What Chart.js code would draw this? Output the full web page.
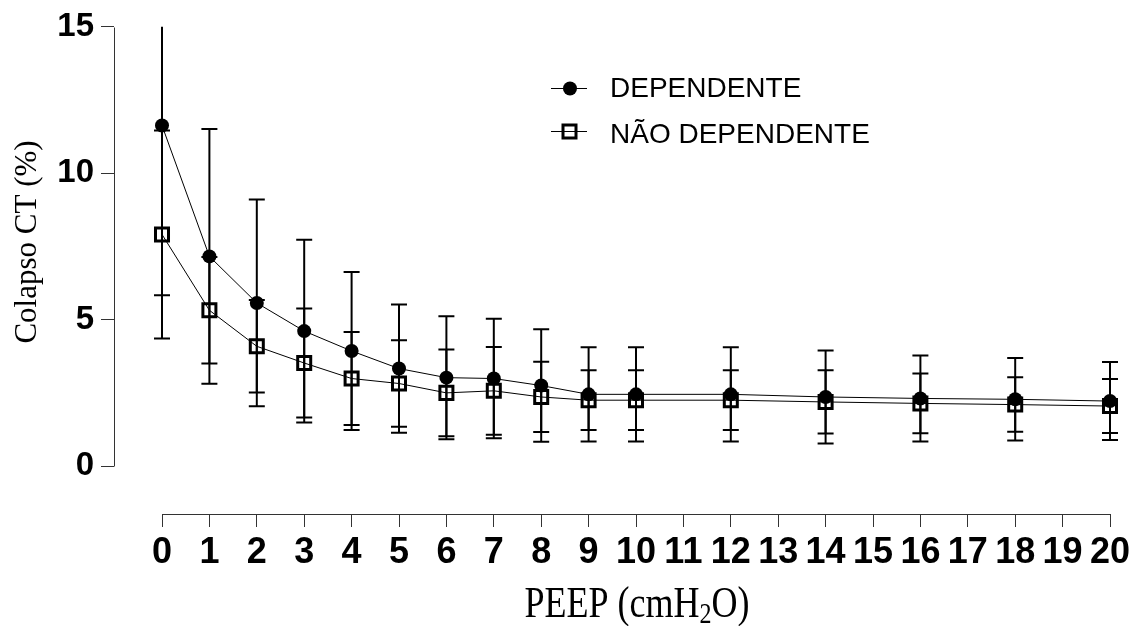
<!DOCTYPE html>
<html><head><meta charset="utf-8">
<script src="https://cdn.jsdelivr.net/npm/chart.js@4.4.1/dist/chart.umd.min.js"></script>
<style>html,body{margin:0;padding:0;background:#fff;overflow:hidden;}</style>
</head><body>
<canvas id="c" width="1138" height="626"></canvas>
<script>
// ---- data ----
const peep = [0, 1, 2, 3, 4, 5, 6, 7, 8, 9, 10, 12, 14, 16, 18, 20];
const dependente = [11.63, 7.16, 5.57, 4.61, 3.93, 3.33, 3.02, 2.99, 2.75, 2.45, 2.45, 2.45, 2.36, 2.31, 2.28, 2.22];
const dependenteSD = [5.80, 4.35, 3.53, 3.12, 2.70, 2.19, 2.10, 2.04, 1.92, 1.61, 1.61, 1.61, 1.59, 1.47, 1.41, 1.33];
const naoDependente = [7.91, 5.32, 4.09, 3.52, 2.99, 2.82, 2.50, 2.57, 2.36, 2.25, 2.25, 2.25, 2.19, 2.14, 2.10, 2.05];
const naoDependenteSD = [3.55, 1.82, 1.58, 1.86, 1.59, 1.48, 1.48, 1.50, 1.20, 1.02, 1.02, 1.02, 1.08, 1.02, 0.93, 0.92];
const xTicks = [0,1,2,3,4,5,6,7,8,9,10,11,12,13,14,15,16,17,18,19,20];
const yTicks = [0, 5, 10, 15];
const seriesNames = ['DEPENDENTE', 'NÃO DEPENDENTE'];
const yTitle = 'Colapso CT (%)';
const xTitleParts = ['PEEP (cmH', '2', 'O)'];

const prism = {
  id: 'prism',
  beforeDatasetsDraw(chart) {
    const {ctx, chartArea: a, scales: {x, y}} = chart;
    ctx.save();
    ctx.beginPath();
    ctx.rect(0, a.top, chart.width, chart.height - a.top);
    ctx.clip();
    ctx.strokeStyle = '#000';
    ctx.lineWidth = 2;
    [[dependente, dependenteSD], [naoDependente, naoDependenteSD]].forEach(([m, sd]) => {
      peep.forEach((p, i) => {
        const px = x.getPixelForValue(p);
        const t = y.getPixelForValue(m[i] + sd[i]);
        const b = y.getPixelForValue(m[i] - sd[i]);
        ctx.beginPath();
        ctx.moveTo(px, t); ctx.lineTo(px, b);
        ctx.moveTo(px - 8, t); ctx.lineTo(px + 8, t);
        ctx.moveTo(px - 8, b); ctx.lineTo(px + 8, b);
        ctx.stroke();
      });
    });
    ctx.restore();
  },
  afterDraw(chart) {
    const {ctx, chartArea: a, scales: {x, y}} = chart;
    ctx.save();
    // axis lines
    ctx.strokeStyle = '#333';
    ctx.lineWidth = 1;
    ctx.beginPath();
    const ax = Math.round(a.left) + 0.5;
    ctx.moveTo(ax, Math.round(y.getPixelForValue(yTicks[yTicks.length - 1])) + 0.5);
    ctx.lineTo(ax, Math.round(y.getPixelForValue(yTicks[0])) + 0.5);
    const ay = Math.round(a.bottom) + 0.5;
    ctx.moveTo(Math.round(x.getPixelForValue(xTicks[0])) + 0.5, ay);
    ctx.lineTo(Math.round(x.getPixelForValue(xTicks[xTicks.length - 1])) + 0.5, ay);
    ctx.stroke();

    // y title
    ctx.fillStyle = '#000';
    ctx.save();
    ctx.translate(28, 242);
    ctx.rotate(-Math.PI / 2);
    ctx.font = '31px "Liberation Serif"';
    ctx.textAlign = 'center';
    ctx.textBaseline = 'middle';
    ctx.fillText(yTitle, 0, 0);
    ctx.restore();

    // x title with subscript
    ctx.save();
    const mainFont = '36px "Liberation Serif"', subFont = '24px "Liberation Serif"';
    ctx.font = mainFont; const w1 = ctx.measureText(xTitleParts[0]).width; const w3 = ctx.measureText(xTitleParts[2]).width;
    ctx.font = subFont; const w2 = ctx.measureText(xTitleParts[1]).width;
    const W = w1 + w2 + w3;
    let sx = 637 - W / 2;
    ctx.translate(0, 617);
    ctx.scale(1, 1.25);
    ctx.textAlign = 'left';
    ctx.textBaseline = 'alphabetic';
    ctx.font = mainFont; ctx.fillText(xTitleParts[0], sx, 0);
    ctx.font = subFont; ctx.fillText(xTitleParts[1], sx + w1, 5);
    ctx.font = mainFont; ctx.fillText(xTitleParts[2], sx + w1 + w2, 0);
    ctx.restore();

    // legend
    ctx.strokeStyle = '#000';
    ctx.lineWidth = 1;
    ctx.beginPath();
    ctx.moveTo(551, 88.5); ctx.lineTo(587, 88.5);
    ctx.moveTo(551, 131.5); ctx.lineTo(587, 131.5);
    ctx.stroke();
    ctx.beginPath();
    ctx.arc(570, 88.5, 7, 0, Math.PI * 2);
    ctx.fill();
    ctx.lineWidth = 3;
    ctx.strokeRect(563, 125, 13, 13);
    ctx.font = '28px "Liberation Sans"';
    ctx.textAlign = 'left';
    ctx.textBaseline = 'alphabetic';
    ctx.fillText(seriesNames[0], 610, 97);
    ctx.fillText(seriesNames[1], 610, 143);
    ctx.restore();
  }
};

new Chart(document.getElementById('c'), {
  type: 'line',
  data: {
    datasets: [
      {
        label: seriesNames[0],
        data: peep.map((p, i) => ({x: p, y: dependente[i]})),
        borderColor: '#000', borderWidth: 1, tension: 0, clip: false,
        pointStyle: 'circle', pointRadius: 7,
        pointBackgroundColor: '#000', pointBorderColor: '#000', pointBorderWidth: 0,
        order: 1
      },
      {
        label: seriesNames[1],
        data: peep.map((p, i) => ({x: p, y: naoDependente[i]})),
        borderColor: '#000', borderWidth: 1, tension: 0, clip: false,
        pointStyle: 'rect', pointRadius: 9.2,
        pointBackgroundColor: 'rgba(0,0,0,0)', pointBorderColor: '#000', pointBorderWidth: 3,
        order: 0
      }
    ]
  },
  options: {
    responsive: false,
    animation: false,
    events: [],
    devicePixelRatio: 1,
    layout: {padding: {top: 26, right: 28, left: 0, bottom: 0}},
    plugins: {legend: {display: false}, tooltip: {enabled: false}},
    scales: {
      x: {
        type: 'linear', min: -1.0127, max: 20,
        afterBuildTicks: s => { s.ticks = xTicks.map(v => ({value: v})); },
        afterFit: s => { s.height = 112; },
        grid: {display: true, drawOnChartArea: false, drawTicks: true, tickLength: 13, color: '#333', lineWidth: 1},
        border: {display: false},
        ticks: {font: {family: 'Liberation Sans', size: 36, weight: 'bold'}, color: '#000', padding: 4,
                autoSkip: false, maxRotation: 0, minRotation: 0}
      },
      y: {
        type: 'linear', min: -1.636, max: 15,
        afterBuildTicks: s => { s.ticks = yTicks.map(v => ({value: v})); },
        afterFit: s => { s.width = 114; },
        grid: {display: true, drawOnChartArea: false, drawTicks: true, tickLength: 13, color: '#333', lineWidth: 1},
        border: {display: false},
        ticks: {font: {family: 'Liberation Sans', size: 33, weight: 'bold'}, color: '#000', padding: 7}
      }
    }
  },
  plugins: [prism]
});
</script>
</body></html>
